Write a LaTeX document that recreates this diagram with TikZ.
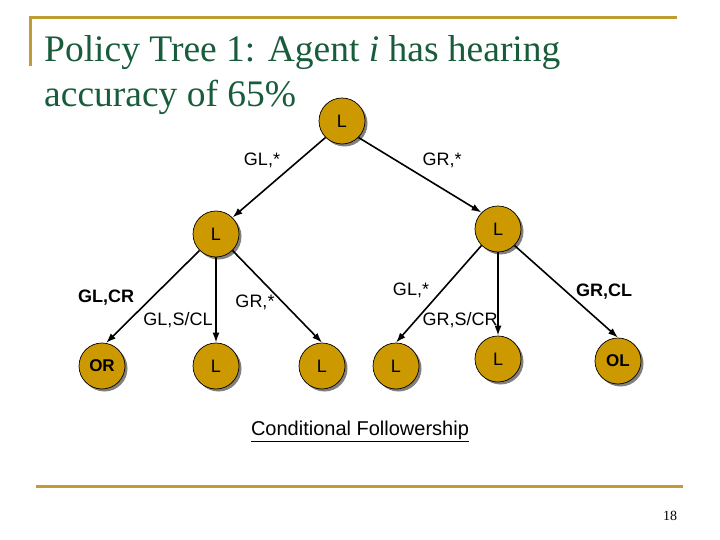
\documentclass[tikz,border=0pt]{standalone}
\usepackage{fontspec}
\setmainfont{Liberation Serif}
\setsansfont{Liberation Sans}
\usetikzlibrary{arrows.meta,shadows}
\definecolor{gold}{RGB}{204,153,0}
\definecolor{rulegold}{RGB}{192,156,52}
\definecolor{titlegreen}{RGB}{24,92,60}
\begin{document}
\begin{tikzpicture}[x=1pt,y=-1pt,
  st/.style={circle,draw=black,line width=0.7pt,fill=gold,minimum size=46pt,inner sep=0pt,
    font=\sffamily\fontsize{18}{18}\selectfont,
    drop shadow={shadow xshift=2.5pt,shadow yshift=-2.5pt,fill=black!50,opacity=1}},
  stb/.style={st,font=\sffamily\bfseries\fontsize{17}{17}\selectfont},
  lbl/.style={font=\sffamily\fontsize{18}{18}\selectfont,inner sep=0pt},
  lblb/.style={font=\sffamily\bfseries\fontsize{18}{18}\selectfont,inner sep=0pt},
  arr/.style={-{Latex[length=10pt,width=7pt]},line width=1.6pt},
  rl/.style={draw=rulegold,line width=3pt}]
\useasboundingbox (0,0) rectangle (720,540);
% rules
\draw[rl] (30,18) -- (677,18);
\draw[rl] (30,16.5) -- (30,66);
\draw[rl] (36,486) -- (683,486);
% title
\node[anchor=base west,inner sep=0pt,text=titlegreen,font=\fontsize{37.5}{37.5}\selectfont] (t1) at (44,62) {Policy Tree 1: Agent \textit{i} has hearing};
\node[anchor=base west,inner sep=0pt,text=titlegreen,font=\fontsize{37.5}{37.5}\selectfont] (t2) at (44,107) {accuracy of 65\%};
% nodes
\node[st] (root) at (342,121) {L};
\node[st] (a) at (216,234) {L};
\node[st] (b) at (498,229) {L};
\node[stb] (a1) at (102,366) {OR};
\node[st] (a2) at (216,366) {L};
\node[st] (a3) at (322,366) {L};
\node[st] (b1) at (396,366) {L};
\node[st] (b2) at (498,359) {L};
\node[stb] (b3) at (618,361) {OL};
% edges
\draw[arr] (root.-135) -- (a.45);
\draw[arr] (root.-45) -- (b.135);
\draw[arr] (a.-135) -- (a1.80);
\draw[arr] (a.south) -- (a2.north);
\draw[arr] (a.-45) -- (a3.north);
\draw[arr] (b.-135) -- (b1.north);
\draw[arr] (b.south) -- (b2.north);
\draw[arr] (b.-45) -- (b3.north);
% labels
\node[lbl] (l1) at (262,160) {GL,*};
\node[lbl] (l2) at (442,160) {GR,*};
\node[lblb] (l3) at (106,298) {GL,CR};
\node[lbl] (l4) at (178,320) {GL,S/CL};
\node[lbl] (l5) at (255,302) {GR,*};
\node[lbl] (l6) at (411,290) {GL,*};
\node[lbl] (l7) at (460,320) {GR,S/CR};
\node[lblb] (l8) at (604,292) {GR,CL};
\node[font=\sffamily\fontsize{20}{20}\selectfont,inner sep=0pt] (cf) at (360,431) {\underline{Conditional Followership}};
\node[inner sep=0pt,font=\fontsize{14}{14}\selectfont] (pg) at (670,516) {18};
\end{tikzpicture}
\end{document}
